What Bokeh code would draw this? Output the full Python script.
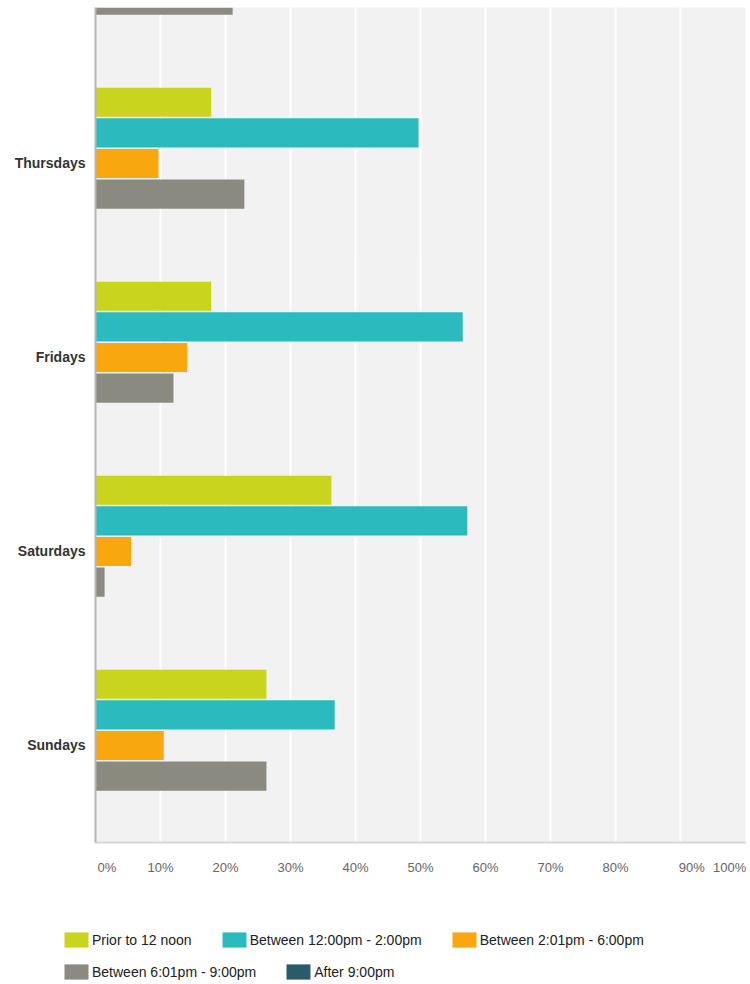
import numpy as np
from bokeh.plotting import figure
from bokeh.models import Range1d, FixedTicker, Legend, LegendItem, ColumnDataSource
from bokeh.embed import file_html
from bokeh.resources import INLINE

# ---------------- data ----------------
days = ["Wednesdays", "Thursdays", "Fridays", "Saturdays", "Sundays"]
series_names = [
    "Prior to 12 noon",
    "Between 12:00pm - 2:00pm",
    "Between 2:01pm - 6:00pm",
    "Between 6:01pm - 9:00pm",
    "After 9:00pm",
]
nan = float("nan")
# Percent of respondents (Wednesdays only partly visible at top of the picture)
prior_to_noon = [nan, 17.8, 17.8, 36.3, 26.3]
noon_to_2pm = [nan, 49.7, 56.5, 57.2, 36.8]
two_to_6pm = [nan, 9.7, 14.1, 5.5, 10.5]
six_to_9pm = [21.1, 22.9, 12.0, 1.4, 26.3]
after_9pm = [nan, 0.0, 0.0, 0.0, 0.0]
x_ticks = [0, 10, 20, 30, 40, 50, 60, 70, 80, 90, 100]
x_tick_labels = ["0%", "10%", "20%", "30%", "40%", "50%", "60%", "70%", "80%", "90%", "100%"]

all_series = [prior_to_noon, noon_to_2pm, two_to_6pm, six_to_9pm, after_9pm]
colors = ["#c9d41e", "#2bbbbf", "#f9a70f", "#8b8a80", "#2b5a6b"]

# ---------------- main chart ----------------
W = 750
H_MAIN, H_LEG = 900, 84
p = figure(
    width=W, height=H_MAIN,
    output_backend="svg", toolbar_location=None,
    x_range=Range1d(0, 100),
    y_range=Range1d(4.5, 0.1959),
    min_border_left=95, min_border_right=5, min_border_top=7, min_border_bottom=58,
)
p.background_fill_color = "#f2f2f2"
p.border_fill_color = "white"
p.outline_line_color = None

slot = 0.1577
bar_h = 0.150
idx = np.arange(len(days))
sources = []
for k, (vals, col) in enumerate(zip(all_series, colors)):
    src = ColumnDataSource(dict(y=idx + (k - 2) * slot, right=np.array(vals, dtype=float)))
    sources.append(src)
    p.hbar(y="y", left=0, right="right", height=bar_h, source=src,
           fill_color=col, line_color=None)

# grid
p.xgrid.ticker = FixedTicker(ticks=x_ticks)
p.xgrid.grid_line_color = "white"
p.xgrid.grid_line_width = 2
p.ygrid.grid_line_color = None

# x axis: labels sit like the reference (first and "90%" start at their line,
# last one ends at the frame edge), the others are centred on their line
shift = {0: 1.75, 90: 1.75, 100: -2.45}
label_pos = [t + shift.get(t, 0.0) for t in x_ticks]
xa = p.xaxis[0]
xa.ticker = FixedTicker(ticks=label_pos)
xa.major_label_overrides = {pos: lab for pos, lab in zip(label_pos, x_tick_labels)}
xa.major_label_text_font = "Liberation Sans"
xa.major_label_text_font_size = "13px"
xa.major_label_text_color = "#666666"
xa.major_label_standoff = 17
xa.major_tick_out = 0
xa.major_tick_in = 0
xa.minor_tick_out = 0
xa.minor_tick_in = 0
xa.major_tick_line_color = None
xa.minor_tick_line_color = None
xa.axis_line_color = "#d6d6d6"
xa.axis_line_width = 2

# y axis
ya = p.yaxis[0]
ya.ticker = FixedTicker(ticks=[int(i) for i in idx])
ya.major_label_overrides = {int(i): d for i, d in zip(idx, days)}
ya.major_label_text_font = "Liberation Sans"
ya.major_label_text_font_style = "bold"
ya.major_label_text_font_size = "14px"
ya.major_label_text_color = "#333333"
ya.major_label_standoff = 10
ya.major_tick_out = 0
ya.major_tick_in = 0
ya.minor_tick_out = 0
ya.minor_tick_in = 0
ya.major_tick_line_color = None
ya.minor_tick_line_color = None
ya.axis_line_color = "#b5b5b5"
ya.axis_line_width = 2

# ---------------- legend strip below the chart (own root, not frame-aligned) ----------------
lf = figure(
    width=W, height=H_LEG,
    output_backend="svg", toolbar_location=None,
    x_axis_type=None, y_axis_type=None,
    x_range=Range1d(0, 100), y_range=Range1d(0, 1),
    min_border_left=0, min_border_right=0, min_border_top=0, min_border_bottom=0,
)
lf.outline_line_color = None
lf.background_fill_color = "white"
lf.border_fill_color = "white"
lf.grid.grid_line_color = None

# hidden renderers that only provide the legend swatches
swatches = []
for src, col in zip(sources, colors):
    r = lf.hbar(y="y", left=0, right="right", height=bar_h, source=src,
                fill_color=col, line_color=None, visible=False)
    swatches.append(r)


def make_legend(items, loc):
    return Legend(items=items, location=loc, orientation="horizontal",
                  glyph_width=30, glyph_height=19, label_height=19,
                  label_standoff=1, spacing=27, padding=0, margin=0,
                  border_line_color=None, background_fill_alpha=0,
                  inactive_fill_alpha=0, click_policy="none",
                  label_text_font="Liberation Sans", label_text_font_size="14px",
                  label_text_color="#222222")


items1 = [LegendItem(label=series_names[i], renderers=[swatches[i]]) for i in range(3)]
items2 = [LegendItem(label=series_names[i], renderers=[swatches[i]]) for i in range(3, 5)]
lf.add_layout(make_legend(items1, (61, 35)))
lf.add_layout(make_legend(items2, (61, 3)))

open("out.html", "w").write(file_html([p, lf], INLINE))
